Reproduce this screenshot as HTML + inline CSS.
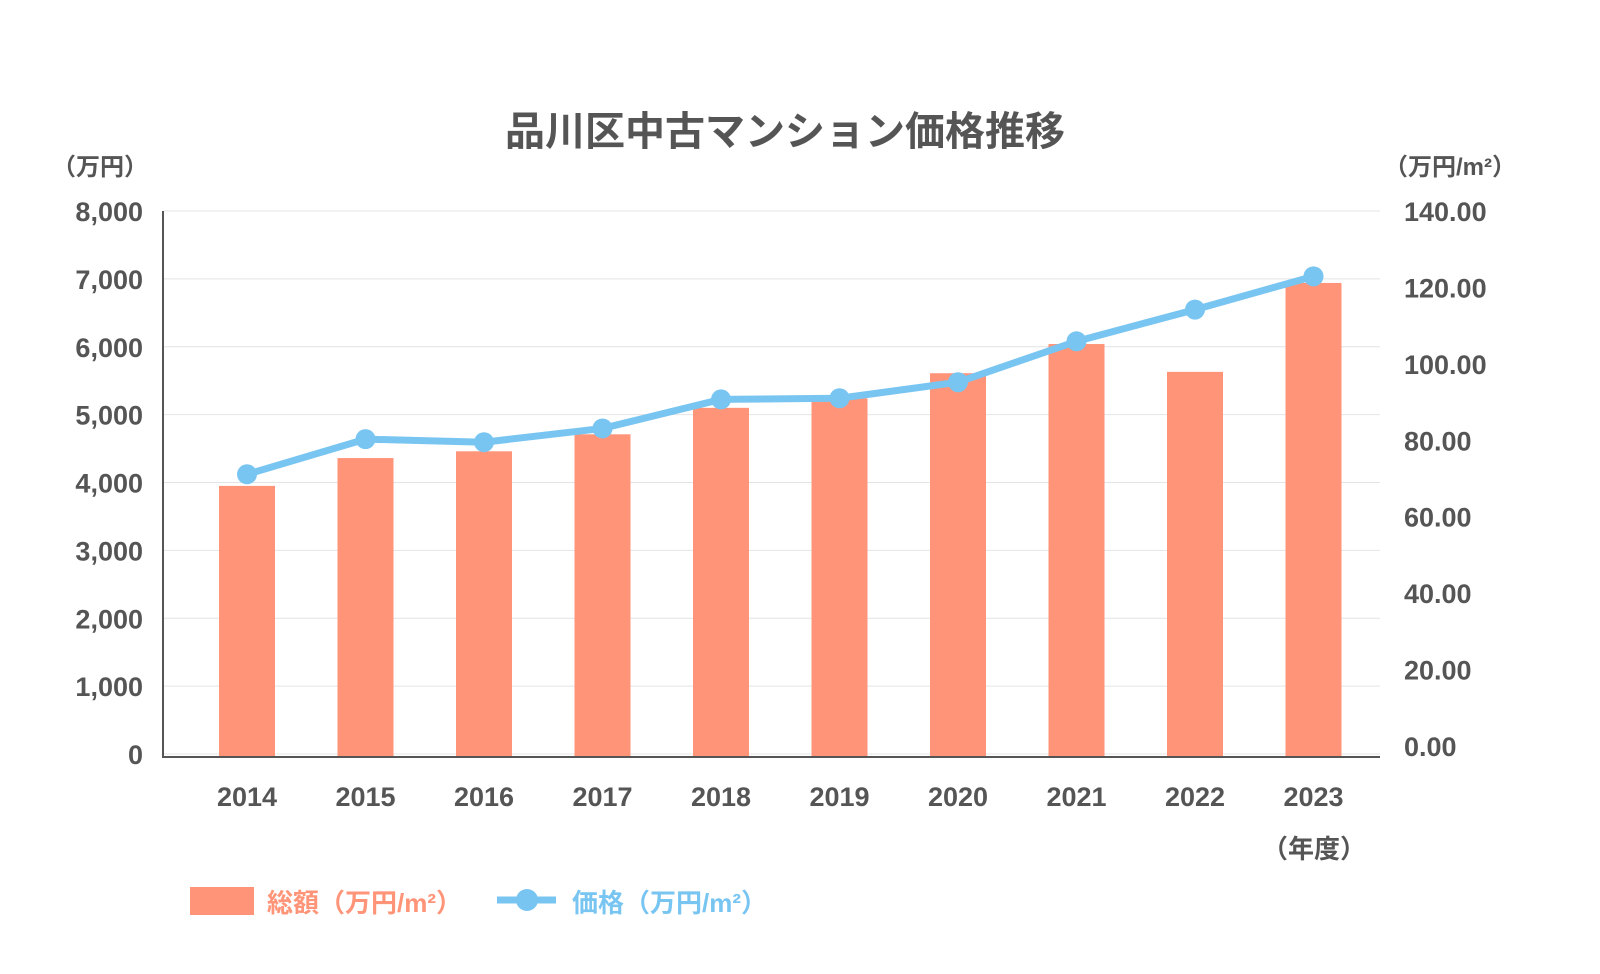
<!DOCTYPE html>
<html><head><meta charset="utf-8"><style>
body{margin:0;background:#fff;}
svg text{font-family:"Liberation Sans","Noto Sans CJK JP",sans-serif;font-weight:bold;}
</style></head><body>
<svg id="c" width="1600" height="969" xmlns="http://www.w3.org/2000/svg">
<text x="785" y="145" text-anchor="middle" font-size="40" fill="#555">品川区中古マンション価格推移</text>
<text x="100" y="175" text-anchor="middle" font-size="24" fill="#555">（万円）</text>
<text x="1450" y="175" text-anchor="middle" font-size="24" fill="#555">（万円/m²）</text>
<g id="grid"></g><g id="bars"></g><g id="line"></g><g id="axes"></g>
<text x="1314" y="858" text-anchor="middle" font-size="26" fill="#555">（年度）</text>
<rect x="190" y="887" width="64" height="28" fill="#FF9478"/>
<text x="267" y="912" font-size="26" fill="#FF9478">総額（万円/m²）</text>
<line x1="497" y1="900" x2="556" y2="900" stroke="#79C5F2" stroke-width="7"/>
<circle cx="527" cy="900" r="11" fill="#79C5F2"/>
<text x="572" y="912" font-size="26" fill="#79C5F2">価格（万円/m²）</text>
</svg>
<script>
const categories=["2014","2015","2016","2017","2018","2019","2020","2021","2022","2023"];
const totals=[3950,4360,4460,4710,5100,5240,5610,6040,5630,6940];
const prices=[71.1,80.3,79.5,83.1,90.7,91.0,95.2,105.9,114.2,122.9];
const leftTicks=[0,1000,2000,3000,4000,5000,6000,7000,8000];
const rightTicks=[0,20,40,60,80,100,120,140];
const NS="http://www.w3.org/2000/svg";
const yL=v=>754-v*(543/8000);
const yR=v=>746-v*(535/140);
const xC=i=>247+i*118.5;
function mk(p,t,a){const e=document.createElementNS(NS,t);for(const k in a)e.setAttribute(k,a[k]);document.getElementById(p).appendChild(e);return e;}
leftTicks.forEach(v=>{
 const g=mk('grid','line',{x1:163,x2:1380,y1:yL(v),y2:yL(v),stroke:'#e4e4e4','stroke-width':1});
 
 
 const t=mk('axes','text',{x:143,y:yL(v)+10,'text-anchor':'end','font-size':27,fill:'#555'});
 t.textContent=v.toLocaleString('en-US');
 
 
});
rightTicks.forEach(v=>{
 const t=mk('axes','text',{x:1404,y:yR(v)+10,'font-size':27,fill:'#555'});
 t.textContent=v.toFixed(2);
 
 
});
categories.forEach((c,i)=>{
 const b=mk('bars','rect',{x:xC(i)-28,y:yL(totals[i]),width:56,height:yL(0)+3-yL(totals[i]),fill:'#FF9478'});
 
 
 const t=mk('axes','text',{x:xC(i),y:806,'text-anchor':'middle','font-size':27,fill:'#555'});
 t.textContent=c;
 
 
});
const pl=mk('line','polyline',{points:prices.map((v,i)=>xC(i)+','+yR(v)).join(' '),fill:'none',stroke:'#79C5F2','stroke-width':7});


prices.forEach((v,i)=>{
 const p=mk('line','circle',{cx:xC(i),cy:yR(v),r:10,fill:'#79C5F2'});
 
 
});
const ax=mk('axes','polyline',{points:'163,211 163,757 1380,757',fill:'none',stroke:'#555','stroke-width':2});


</script>
</body></html>
